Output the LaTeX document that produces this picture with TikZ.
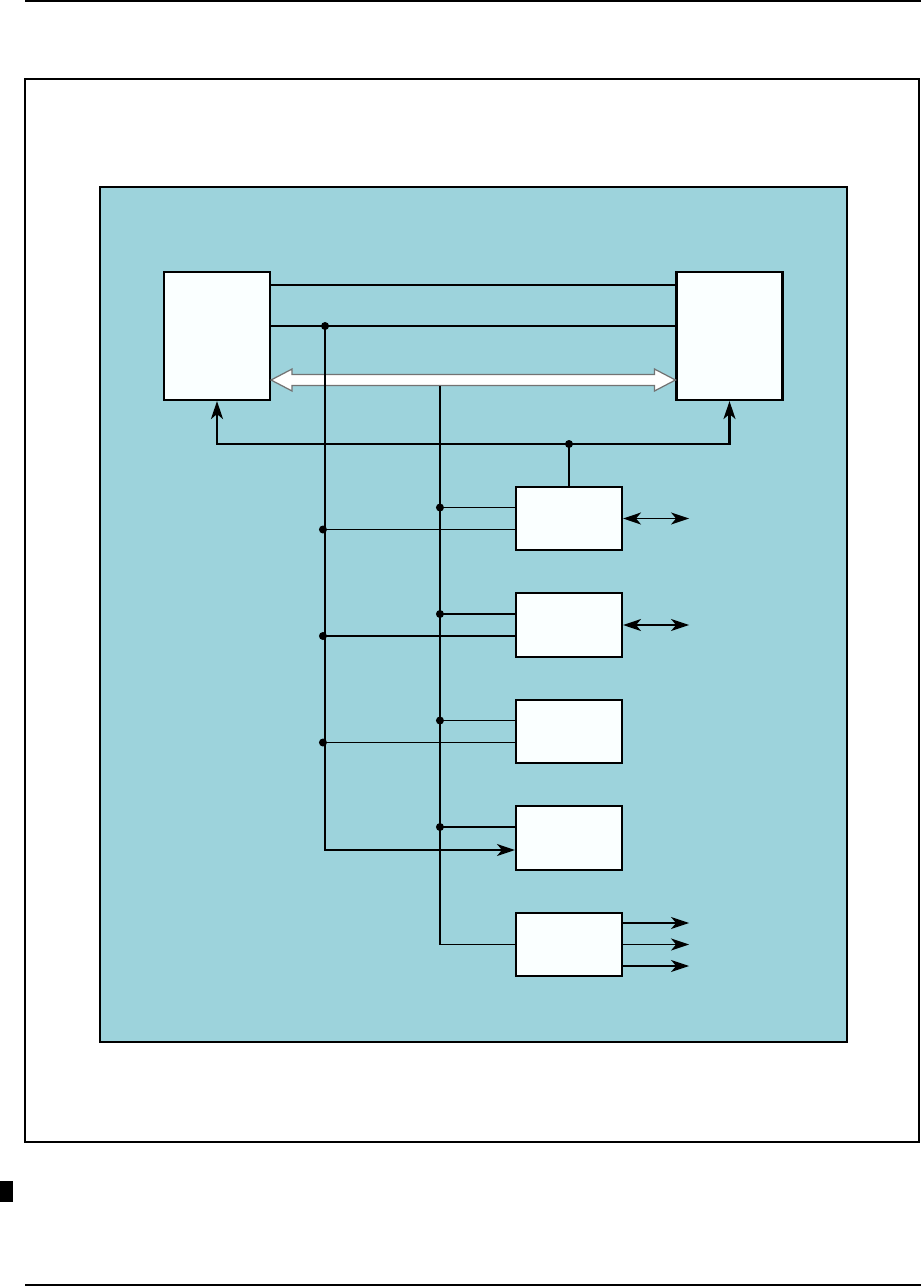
\documentclass[tikz,border=0pt]{standalone}
\usepackage{tikz}
\usepackage{xcolor}
\usetikzlibrary{arrows.meta, calc}

\definecolor{panelblue}{RGB}{157,211,220}
\definecolor{boxwhite}{RGB}{250,255,255}

\begin{document}
\begin{tikzpicture}[
    x=0.02cm, y=-0.02cm,
    line width=0.8pt,
    unit/.style={
        rectangle,
        draw=black,
        line width=1.2pt,
        fill=boxwhite,
        inner sep=0pt,
        minimum width=2.12cm,
        minimum height=1.27cm
    },
    cpu/.style={unit, minimum height=2.56cm},
    tap/.style={circle, fill=black, inner sep=0pt, minimum size=1.6mm},
    bus/.style={line width=1.4pt},
    fatarrow/.style={draw=black!55, fill=white, line width=0.7pt},
    arrow/.style={-{Stealth[length=3.6mm, width=2.4mm, inset=1mm]}},
    dblarrow/.style={{Stealth[length=3.6mm, width=2.4mm, inset=1mm]}-{Stealth[length=3.6mm, width=2.4mm, inset=1mm]}}
]

% page
\useasboundingbox (0,0) rectangle (921,1286);
\draw[line width=1pt] (25,1) -- (921,1);
\draw[line width=0.7pt] (25,79) rectangle (919,1142);
\draw[line width=1.5pt, fill=panelblue] (100,187) rectangle (847,1042);
\fill (0,1181) rectangle (13,1202);
\draw[line width=1pt] (25,1285) -- (921,1285);

% main boxes
\node[cpu] (lbox) at (217,336) {};
\node[cpu] (rbox) at (729.5,336) {};

% right column
\node[unit] (b1) at (569,518.5) {};
\node[unit] (b2) at (569,625) {};
\node[unit] (b3) at (569,731.5) {};
\node[unit] (b4) at (569,838) {};
\node[unit] (b5) at (569,944.5) {};

% lines between main boxes
\draw ($(lbox.east)+(0,-51)$) -- ($(rbox.west)+(0,-51)$);
\node[tap] (tapA) at ($(lbox.east)+(54,-10)$) {};
\draw ($(lbox.east)+(0,-10)$) -- ($(rbox.west)+(0,-10)$);

% hollow data bus
\coordinate (dl) at ($(lbox.east)+(0,44)$);
\coordinate (dr) at ($(rbox.west)+(0,44)$);
\draw[fatarrow] (dl) -- ++(21,-11) -- ++(0,5.5) -- ($(dr)+(-21,-5.5)$)
    -- ++(0,-5.5) -- (dr) -- ++(-21,11) -- ++(0,-5.5)
    -- ($(dl)+(21,5.5)$) -- ++(0,5.5) -- cycle;
\coordinate (busB) at ($(dl)+(169,5.5)$);

% verticals
\draw (busB) |- (b5.west);
\draw[arrow] (tapA.center) |- ($(b4.west)+(0,12)$);

% control bus
\node[tap] (busC) at (569,444) {};
\draw[bus, arrow] (busC.center) -| (lbox.south);
\draw[bus, arrow] (busC.center) -| (rbox.south);
\draw (busC.center) -- (b1.north);

% taps
\foreach \b in {b1,b2,b3,b4}
    \draw ($(\b.west)+(-75,-11)$) node[tap] (t\b) {} -- ($(\b.west)+(0,-11)$);
\foreach \b in {b1,b2,b3}
    \draw ($(\b.west)+(-192,11)$) node[tap] (s\b) {} -- ($(\b.west)+(0,11)$);

% outputs
\coordinate (o1) at ($(b1.east)+(66,0)$);
\coordinate (o2) at ($(b2.east)+(66,0)$);
\draw[dblarrow] (b1.east) -- (o1);
\draw[dblarrow] (b2.east) -- (o2);
\foreach \dy [count=\i] in {-21.5,0,21.5} {
    \coordinate (q\i) at ($(b5.east)+(66,\dy)$);
    \draw[arrow] ($(b5.east)+(0,\dy)$) -- (q\i);
}

\end{tikzpicture}
\end{document}
